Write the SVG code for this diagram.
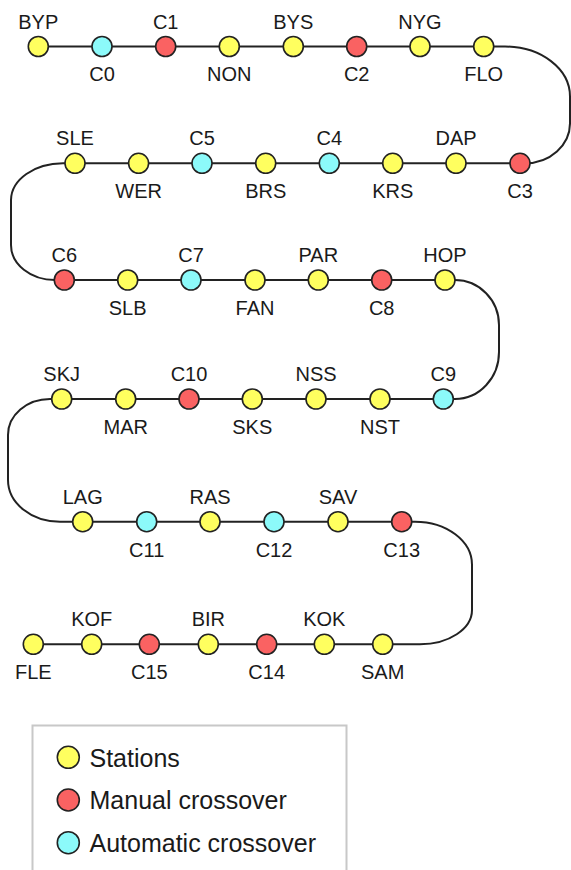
<svg xmlns="http://www.w3.org/2000/svg" width="571" height="870" viewBox="0 0 571 870">
<style>
text{font-family:"Liberation Sans",Arial,Helvetica,sans-serif;font-size:20px;fill:#1a1a1a;text-anchor:middle}
.lg text{font-size:25px;text-anchor:start}
circle{stroke:#222;stroke-width:1.6}
.st{fill:#ffff5f}.mc{fill:#fa6262}.ac{fill:#8cfafa}
#connectors path{fill:none;stroke:#222;stroke-width:2}
</style>
<rect width="571" height="870" fill="#fff"/>
<g id="connectors">
<path d="M38.3,46.5 L483.7,46.5"/>
<path d="M483.7,46.5 L505,46.5 A65 50 0 0 1 570 96.5 L570 123 A45 40 0 0 1 525 163.3 L520,163.3"/>
<path d="M520,163.3 L75,163.3"/>
<path d="M75,163.3 L63,163.3 A52 37 0 0 0 11 200 L11 245 A44 35 0 0 0 55 280 L64.3,280"/>
<path d="M64.3,280 L445,280"/>
<path d="M445,280 L455,280 A44 45 0 0 1 499 325 L499 352 A44 47 0 0 1 455 399 L443.3,399"/>
<path d="M443.3,399 L61.7,399"/>
<path d="M61.7,399 L50,399 A42 36 0 0 0 8 435 L8 480 A52 41.7 0 0 0 60 521.7 L82.7,521.7"/>
<path d="M82.7,521.7 L401.7,521.7"/>
<path d="M401.7,521.7 L415,521.7 A57 43 0 0 1 472 564.7 L472 610 A52 34.3 0 0 1 420 644.3 L382.7,644.3"/>
<path d="M382.7,644.3 L33.3,644.3"/>
</g>
<g id="BYP"><circle class="st" cx="38.3" cy="46.5" r="10"/><text x="38.3" y="28.5">BYP</text></g>
<g id="C0"><circle class="ac" cx="102" cy="46.5" r="10"/><text x="102" y="81">C0</text></g>
<g id="C1"><circle class="mc" cx="165.7" cy="46.5" r="10"/><text x="165.7" y="28.5">C1</text></g>
<g id="NON"><circle class="st" cx="229.3" cy="46.5" r="10"/><text x="229.3" y="81">NON</text></g>
<g id="BYS"><circle class="st" cx="293.3" cy="46.5" r="10"/><text x="293.3" y="28.5">BYS</text></g>
<g id="C2"><circle class="mc" cx="356.7" cy="46.5" r="10"/><text x="356.7" y="81">C2</text></g>
<g id="NYG"><circle class="st" cx="420" cy="46.5" r="10"/><text x="420" y="28.5">NYG</text></g>
<g id="FLO"><circle class="st" cx="483.7" cy="46.5" r="10"/><text x="483.7" y="81">FLO</text></g>

<g id="SLE"><circle class="st" cx="75" cy="163.3" r="10"/><text x="75" y="145.3">SLE</text></g>
<g id="WER"><circle class="st" cx="138.6" cy="163.3" r="10"/><text x="138.6" y="198">WER</text></g>
<g id="C5"><circle class="ac" cx="202" cy="163.3" r="10"/><text x="202" y="145.3">C5</text></g>
<g id="BRS"><circle class="st" cx="265.7" cy="163.3" r="10"/><text x="265.7" y="198">BRS</text></g>
<g id="C4"><circle class="ac" cx="329.3" cy="163.3" r="10"/><text x="329.3" y="145.3">C4</text></g>
<g id="KRS"><circle class="st" cx="392.7" cy="163.3" r="10"/><text x="392.7" y="198">KRS</text></g>
<g id="DAP"><circle class="st" cx="456" cy="163.3" r="10"/><text x="456" y="145.3">DAP</text></g>
<g id="C3"><circle class="mc" cx="520" cy="163.3" r="10"/><text x="520" y="198">C3</text></g>

<g id="C6"><circle class="mc" cx="64.3" cy="280" r="10"/><text x="64.3" y="262">C6</text></g>
<g id="SLB"><circle class="st" cx="127.7" cy="280" r="10"/><text x="127.7" y="315">SLB</text></g>
<g id="C7"><circle class="ac" cx="191" cy="280" r="10"/><text x="191" y="262">C7</text></g>
<g id="FAN"><circle class="st" cx="255" cy="280" r="10"/><text x="255" y="315">FAN</text></g>
<g id="PAR"><circle class="st" cx="318.3" cy="280" r="10"/><text x="318.3" y="262">PAR</text></g>
<g id="C8"><circle class="mc" cx="381.7" cy="280" r="10"/><text x="381.7" y="315">C8</text></g>
<g id="HOP"><circle class="st" cx="445" cy="280" r="10"/><text x="445" y="262">HOP</text></g>

<g id="SKJ"><circle class="st" cx="61.7" cy="399" r="10"/><text x="61.7" y="381">SKJ</text></g>
<g id="MAR"><circle class="st" cx="125.7" cy="399" r="10"/><text x="125.7" y="434">MAR</text></g>
<g id="C10"><circle class="mc" cx="189" cy="399" r="10"/><text x="189" y="381">C10</text></g>
<g id="SKS"><circle class="st" cx="252.3" cy="399" r="10"/><text x="252.3" y="434">SKS</text></g>
<g id="NSS"><circle class="st" cx="316" cy="399" r="10"/><text x="316" y="381">NSS</text></g>
<g id="NST"><circle class="st" cx="380" cy="399" r="10"/><text x="380" y="434">NST</text></g>
<g id="C9"><circle class="ac" cx="443.3" cy="399" r="10"/><text x="443.3" y="381">C9</text></g>

<g id="LAG"><circle class="st" cx="82.7" cy="521.7" r="10"/><text x="82.7" y="503.7">LAG</text></g>
<g id="C11"><circle class="ac" cx="146.7" cy="521.7" r="10"/><text x="146.7" y="556.5">C11</text></g>
<g id="RAS"><circle class="st" cx="210" cy="521.7" r="10"/><text x="210" y="503.7">RAS</text></g>
<g id="C12"><circle class="ac" cx="274" cy="521.7" r="10"/><text x="274" y="556.5">C12</text></g>
<g id="SAV"><circle class="st" cx="338" cy="521.7" r="10"/><text x="338" y="503.7">SAV</text></g>
<g id="C13"><circle class="mc" cx="401.7" cy="521.7" r="10"/><text x="401.7" y="556.5">C13</text></g>

<g id="FLE"><circle class="st" cx="33.3" cy="644.3" r="10"/><text x="33.3" y="679">FLE</text></g>
<g id="KOF"><circle class="st" cx="91.7" cy="644.3" r="10"/><text x="91.7" y="626.3">KOF</text></g>
<g id="C15"><circle class="mc" cx="149.3" cy="644.3" r="10"/><text x="149.3" y="679">C15</text></g>
<g id="BIR"><circle class="st" cx="208.3" cy="644.3" r="10"/><text x="208.3" y="626.3">BIR</text></g>
<g id="C14"><circle class="mc" cx="266.7" cy="644.3" r="10"/><text x="266.7" y="679">C14</text></g>
<g id="KOK"><circle class="st" cx="324.3" cy="644.3" r="10"/><text x="324.3" y="626.3">KOK</text></g>
<g id="SAM"><circle class="st" cx="382.7" cy="644.3" r="10"/><text x="382.7" y="679">SAM</text></g>

<g id="legend" class="lg">
<path d="M32.5,880 L32.5,725.5 L346.5,725.5 L346.5,880" fill="#fff" stroke="#c8c8c8" stroke-width="2"/>
<circle class="st" cx="68.3" cy="757.3" r="11"/><text x="89.5" y="766.5">Stations</text>
<circle class="mc" cx="68.3" cy="800" r="11"/><text x="89.5" y="809">Manual crossover</text>
<circle class="ac" cx="68.3" cy="842.7" r="11"/><text x="89.5" y="851.7">Automatic crossover</text>
</g>
</svg>
